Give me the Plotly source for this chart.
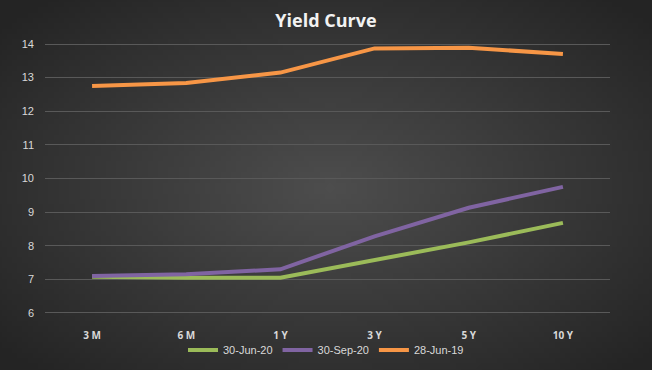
import base64, struct, zlib
import plotly.graph_objects as go

categories = ["3 M", "6 M", "1 Y", "3 Y", "5 Y", "10 Y"]
jun20 = [7.08, 7.05, 7.05, 7.57, 8.10, 8.68]
sep20 = [7.10, 7.15, 7.30, 8.28, 9.13, 9.75]
jun19 = [12.75, 12.84, 13.15, 13.87, 13.89, 13.70]
series_names = ["30-Jun-20", "30-Sep-20", "28-Jun-19"]
colors = ["#9BBB59", "#8064A2", "#F79646"]

# radial gradient background as a small PNG
W, H = 130, 74
def png_bytes(w, h):
    raw = b""
    for j in range(h):
        raw += b"\x00"
        for i in range(w):
            dx = (i - w / 2) / (w / 2)
            dy = (j - h / 2) / (h / 2)
            d = min(1.0, (dx * dx + dy * dy) ** 0.5 / 1.3)
            v = int(78 - (78 - 36) * d)
            raw += bytes([v, v, v])
    def chunk(t, data):
        c = struct.pack(">I", len(data)) + t + data
        return c + struct.pack(">I", zlib.crc32(t + data) & 0xffffffff)
    return (b"\x89PNG\r\n\x1a\n" + chunk(b"IHDR", struct.pack(">IIBBBBB", w, h, 8, 2, 0, 0, 0))
            + chunk(b"IDAT", zlib.compress(raw)) + chunk(b"IEND", b""))
bg = "data:image/png;base64," + base64.b64encode(png_bytes(W, H)).decode()

fig = go.Figure()
for name, vals, col in zip(series_names, [jun20, sep20, jun19], colors):
    fig.add_trace(go.Scatter(x=categories, y=vals, name=name, mode="lines",
                             line=dict(color=col, width=4)))

fig.update_layout(
    width=652, height=370,
    paper_bgcolor="#3a3a3a", plot_bgcolor="rgba(0,0,0,0)",
    images=[dict(source=bg, xref="paper", yref="paper", x=-0.1, y=1.2,
                 sizex=1.2, sizey=1.45, sizing="stretch", layer="below",
                 xanchor="left", yanchor="top")],
    margin=dict(l=45, r=42, t=43, b=56),
    title=dict(text="<b>Yield Curve</b>", x=0.5, xanchor="center", y=0.945, yanchor="middle",
               font=dict(family="Open Sans", size=18, color="#f2f2f2")),
    font=dict(family="Liberation Sans", color="#d9d9d9"),
    xaxis=dict(showgrid=False, showline=False, zeroline=False, ticks="", automargin=False,
               tickfont=dict(size=10, color="#d9d9d9", family="Open Sans", weight="bold"),
               range=[-0.5, 5.5], ticklabelstandoff=14),
    yaxis=dict(range=[5.97, 14.03], tickvals=[6, 7, 8, 9, 10, 11, 12, 13, 14], automargin=False,
               gridcolor="#595959", gridwidth=1, zeroline=False,
               showline=False, tickfont=dict(size=11, color="#d9d9d9"), ticklabelstandoff=10),
    legend=dict(orientation="h", x=0.5, xanchor="center", xref="container",
                y=0.054, yanchor="middle", yref="container",
                font=dict(size=11, color="#d9d9d9"), bgcolor="rgba(0,0,0,0)",
                itemwidth=30, tracegroupgap=0),
    showlegend=True,
)
fig.write_html("out.html", config={"displayModeBar": False},
               post_script="document.body.style.margin='0';document.body.style.overflow='hidden';")
